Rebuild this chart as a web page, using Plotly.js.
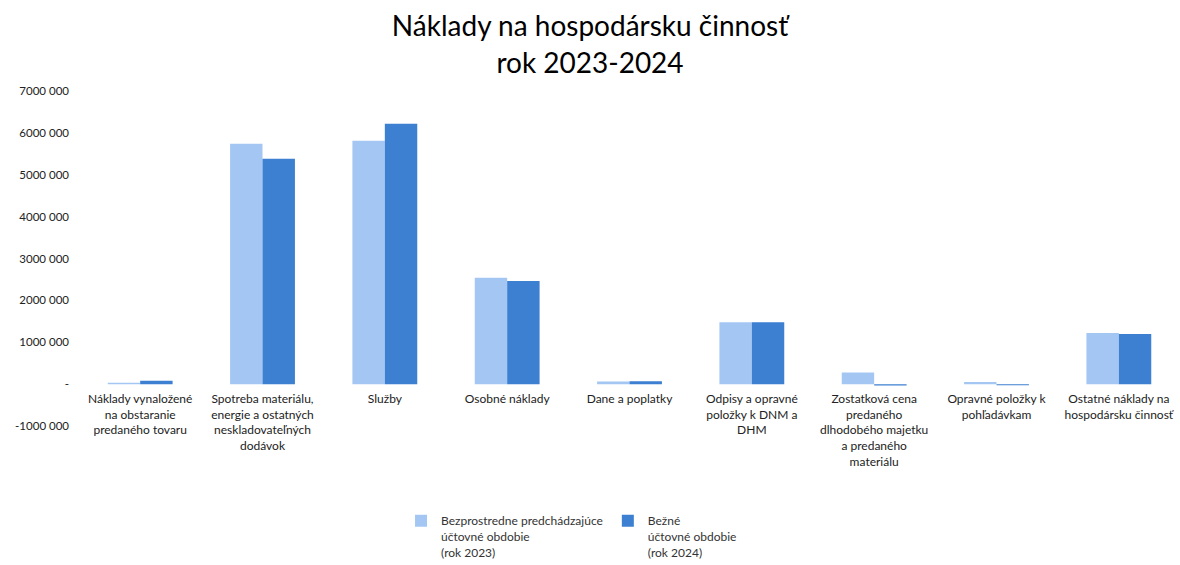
<!DOCTYPE html>
<html>
<head>
<meta charset="utf-8">
<script src="https://cdn.plot.ly/plotly-3.0.1.min.js"></script>
<style>html,body{margin:0;padding:0;background:#fff;}#chart{width:1180px;height:565px;}</style>
</head>
<body>
<div id="chart"></div>
<script>
const categories = [
  "Náklady vynaložené<br>na obstaranie<br>predaného tovaru",
  "Spotreba materiálu,<br>energie a ostatných<br>neskladovateľných<br>dodávok",
  "Služby",
  "Osobné náklady",
  "Dane a poplatky",
  "Odpisy a opravné<br>položky k DNM a<br>DHM",
  "Zostatková cena<br>predaného<br>dlhodobého majetku<br>a predaného<br>materiálu",
  "Opravné položky k<br>pohľadávkam",
  "Ostatné náklady na<br>hospodársku činnosť"
];
const values2023 = [30000, 5740000, 5810000, 2540000, 60000, 1480000, 280000, 50000, 1220000];
const values2024 = [80000, 5380000, 6220000, 2460000, 70000, 1480000, -30000, -25000, 1200000];
const seriesNames = [
  "Bezprostredne predchádzajúce<br>účtovné obdobie<br>(rok 2023)",
  "Bežné<br>účtovné obdobie<br>(rok 2024)"
];
const yTickVals = [-1000000, 0, 1000000, 2000000, 3000000, 4000000, 5000000, 6000000, 7000000];
const yTickText = ["-1000 000", "-", "1000 000", "2000 000", "3000 000", "4000 000", "5000 000", "6000 000", "7000 000"];

const font = "Lato, 'Open Sans', sans-serif";
const traces = [
  {type: "bar", name: seriesNames[0], x: categories, y: values2023,
   marker: {color: "#a3c7f2"}, hoverinfo: "x+y"},
  {type: "bar", name: seriesNames[1], x: categories, y: values2024,
   marker: {color: "#3d7fd1"}, hoverinfo: "x+y"}
];
const layout = {
  width: 1180, height: 565,
  paper_bgcolor: "#fff", plot_bgcolor: "#fff",
  margin: {l: 79, r: 0, t: 91, b: 139, autoexpand: false},
  title: {text: "Náklady na hospodársku činnosť<br>rok 2023-2024", x: 0.5, xanchor: "center",
          y: 0.936, yanchor: "top",
          font: {family: font, size: 28, color: "#000"}},
  barmode: "group", bargap: 0.47, bargroupgap: 0,
  xaxis: {anchor: "free", position: 0.125, showgrid: false, zeroline: false, showline: false,
          ticks: "", tickangle: 0, ticklabelstandoff: 6, automargin: false,
          tickfont: {family: font, size: 12, color: "#222"}},
  yaxis: {range: [-1000000, 7000000], tickvals: yTickVals, ticktext: yTickText, automargin: false,
          showgrid: false, zeroline: false, showline: false, ticks: "", ticklabelstandoff: 9,
          tickfont: {family: font, size: 11.5, color: "#222"}},
  legend: {orientation: "h", x: 0.2925, xanchor: "left", y: -0.24, yanchor: "top",
           valign: "top",
           font: {family: font, size: 12, color: "#333"}, traceorder: "normal",
           itemwidth: 30},
  showlegend: true
};
Plotly.newPlot("chart", traces, layout, {displayModeBar: false, staticPlot: true});
</script>
</body>
</html>
